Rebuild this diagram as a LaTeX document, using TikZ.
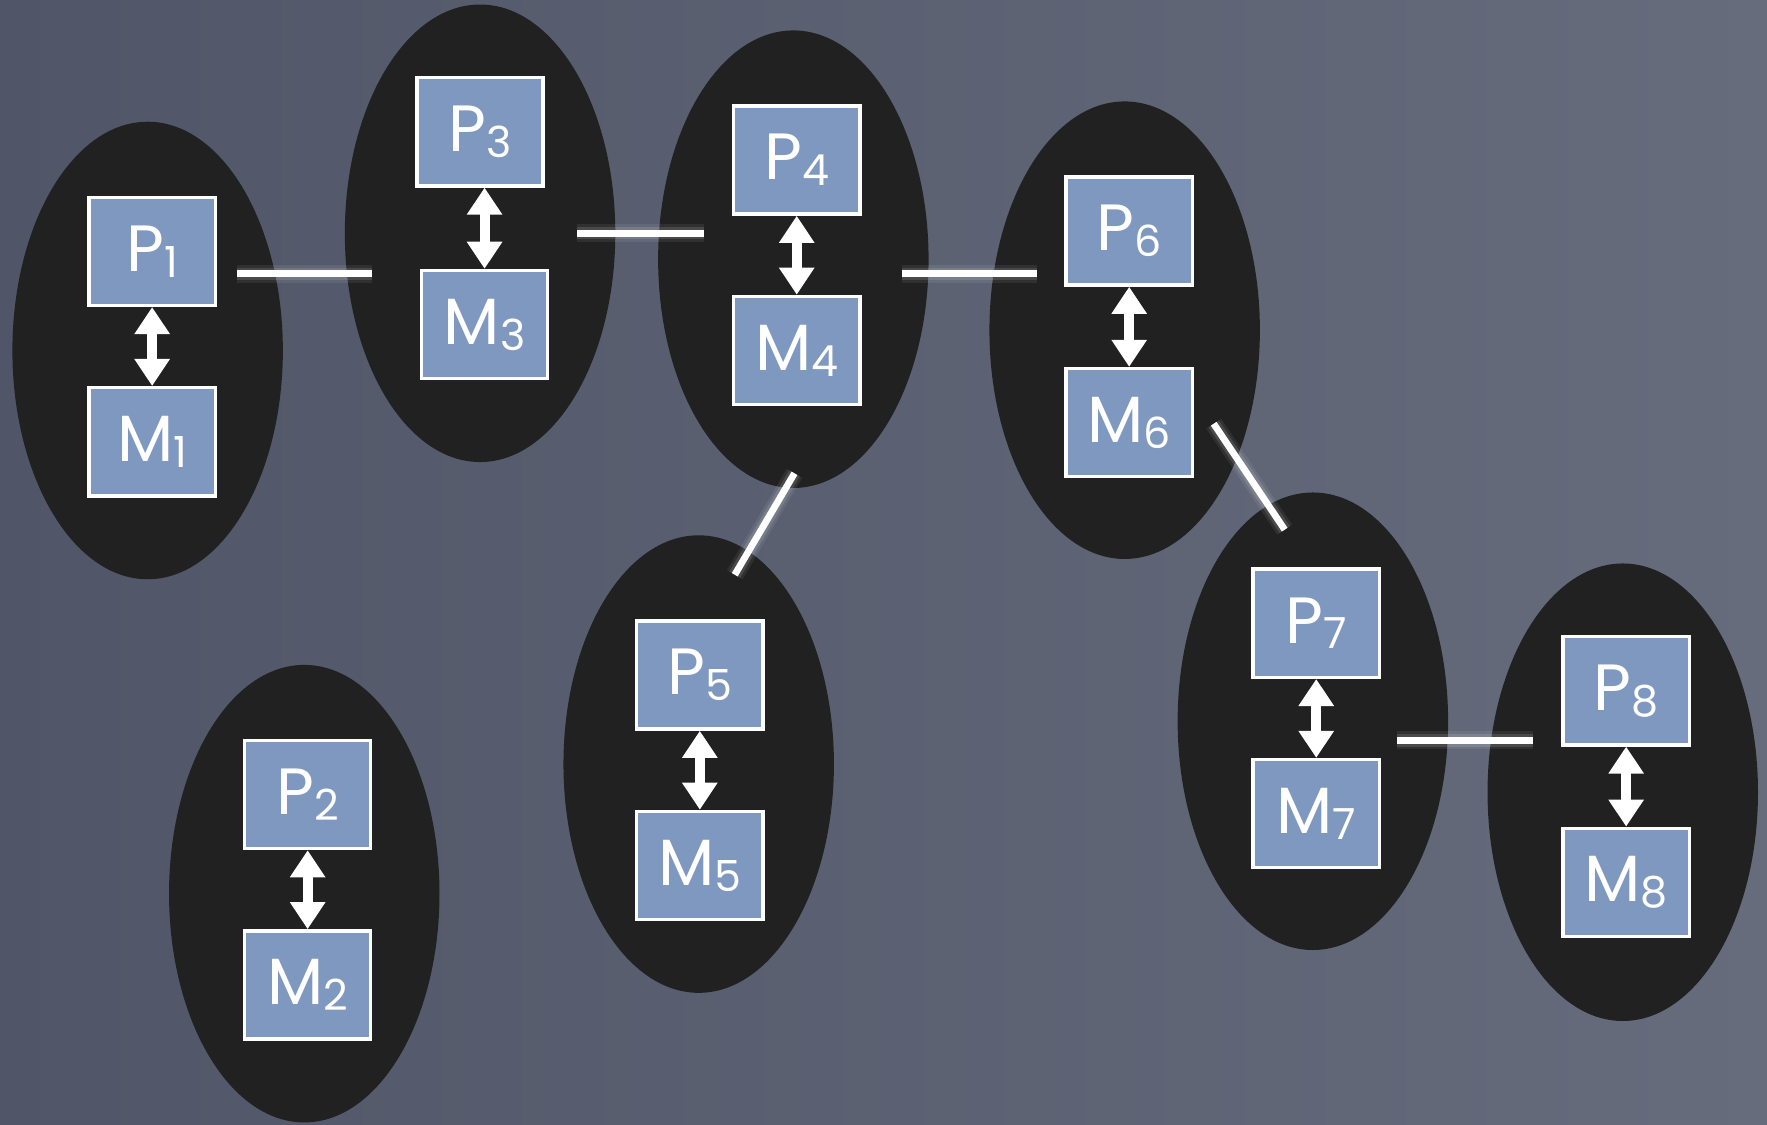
\documentclass[tikz,border=0pt]{standalone}
\usepackage{fontspec}
\setmainfont{Poppins}
\usetikzlibrary{arrows.meta,shapes.geometric}
\definecolor{bgA}{HTML}{505667}
\definecolor{bgB}{HTML}{666C7C}
\definecolor{cell}{HTML}{212121}
\definecolor{boxblue}{HTML}{7F98BF}
\newcommand{\lbl}[2]{#1\raisebox{-0.09em}{\fontsize{19}{19}\selectfont #2}}
\begin{document}
\begin{tikzpicture}[x=0.5pt,y=-0.5pt,
 cellshape/.style={ellipse, fill=cell, minimum width=120pt, minimum height=203pt, inner sep=0pt},
 unit/.style={rectangle, fill=boxblue, draw=white, line width=1.5pt, minimum width=56pt, minimum height=48pt, inner sep=0pt, text=white, font=\fontsize{29}{29}\selectfont},
 link/.style={draw=white, line width=3pt},
 glowA/.style={draw=white, line width=8pt, opacity=0.07},
 glowB/.style={draw=white, line width=5.5pt, opacity=0.12},
 pm/.style={draw=white, line width=4.5pt, {Triangle[width=15pt,length=12pt]}-{Triangle[width=15pt,length=12pt]}}
]
\useasboundingbox (0,0) rectangle (1568,998);
\shade[left color=bgA, right color=bgB] (0,0) rectangle (1568,998);

% cells
\node[cellshape] (E1) at (131,311) {};
\node[cellshape] (E2) at (270,793) {};
\node[cellshape] (E3) at (426,207) {};
\node[cellshape] (E4) at (704,230) {};
\node[cellshape] (E5) at (620,678) {};
\node[cellshape] (E6) at (998,293) {};
\node[cellshape] (E7) at (1165,640) {};
\node[cellshape] (E8) at (1440,703) {};

% boxes
\node[unit] (P1) at (135,223) {\lbl{P}{1}};
\node[unit] (M1) at (135,392) {\lbl{M}{1}};
\node[unit] (P2) at (273,705) {\lbl{P}{2}};
\node[unit] (M2) at (273,874) {\lbl{M}{2}};
\node[unit] (P3) at (426,117) {\lbl{P}{3}};
\node[unit] (M3) at (430,288) {\lbl{M}{3}};
\node[unit] (P4) at (707,142) {\lbl{P}{4}};
\node[unit] (M4) at (707,311) {\lbl{M}{4}};
\node[unit] (P5) at (621,599) {\lbl{P}{5}};
\node[unit] (M5) at (621,768) {\lbl{M}{5}};
\node[unit] (P6) at (1002,205) {\lbl{P}{6}};
\node[unit] (M6) at (1002,375) {\lbl{M}{6}};
\node[unit] (P7) at (1168,553) {\lbl{P}{7}};
\node[unit] (M7) at (1168,722) {\lbl{M}{7}};
\node[unit] (P8) at (1443,613) {\lbl{P}{8}};
\node[unit] (M8) at (1443,783) {\lbl{M}{8}};

% P-M arrows
\draw[pm] (P1.south) -- (M1.north);
\draw[pm] (P2.south) -- (M2.north);
\draw[pm] (P3.south -| M3.north) -- (M3.north);
\draw[pm] (P4.south) -- (M4.north);
\draw[pm] (P5.south) -- (M5.north);
\draw[pm] (P6.south) -- (M6.north);
\draw[pm] (P7.south) -- (M7.north);
\draw[pm] (P8.south) -- (M8.north);

% link end points
\coordinate (a13) at (210,243); \coordinate (b13) at (330,243);
\coordinate (a34) at (512,207); \coordinate (b34) at (625,207);
\coordinate (a46) at (800,243); \coordinate (b46) at (920,243);
\coordinate (a45) at (705,420); \coordinate (b45) at (652,510);
\coordinate (a67) at (1077,376); \coordinate (b67) at (1140,470);
\coordinate (a78) at (1240,657); \coordinate (b78) at (1360,657);

\foreach \k in {13,34,46,45,67,78}{
  \draw[glowA] (a\k) -- (b\k);
  \draw[glowB] (a\k) -- (b\k);
  \draw[link] (a\k) -- (b\k);
}
\end{tikzpicture}
\end{document}
